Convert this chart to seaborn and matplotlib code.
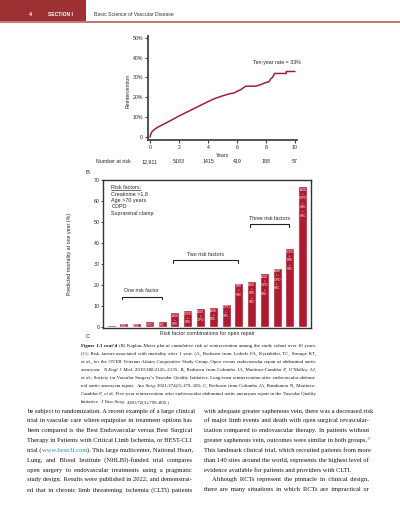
import matplotlib
matplotlib.use("Agg")
import matplotlib.pyplot as plt
import seaborn as sns
import pandas as pd
import numpy as np
from matplotlib.patches import Rectangle
from matplotlib.lines import Line2D

# ---- panel B: cumulative reintervention
km_years = [0, 0.05, 0.15, 0.3, 0.5, 0.75, 1.0, 1.5, 2.0, 2.5, 3.0, 3.5, 4.0, 4.5, 5.0,
            5.5, 5.8, 6.0, 6.3, 6.6, 7.3, 7.7, 7.9, 8.2, 8.35, 8.45, 8.6, 9.4, 9.4, 10.0]
km_pct = [0, 1.5, 2.8, 3.8, 4.8, 5.8, 6.7, 8.6, 10.6, 12.4, 14.2, 16.0, 17.8, 19.5, 20.7,
          21.8, 22.2, 23.0, 24.0, 25.6, 25.6, 26.5, 27.2, 27.8, 29.5, 30.0, 32.0, 32.0, 33.0, 33.0]
km_yticks = [0, 10, 20, 30, 40, 50]
km_yticklabels = ["0", "10%", "20%", "30%", "40%", "50%"]
risk_years = [0, 2, 4, 6, 8, 10]
at_risk = ["12,911", "5183", "1415", "419", "188", "57"]

# ---- panel C: predicted 1-year mortality by risk factor combination
combos = ["NONE", "CRE", "AGE", "COPD", "SRC",
          "AGE+CRE", "COPD+CRE", "AGE+COPD", "AGE+SRC", "COPD+SRC", "CRE+SRC",
          "AGE+CRE+SRC", "AGE+COPD+CRE", "AGE+COPD+SRC", "COPD+CRE+SRC",
          "AGE+COPD+CRE+SRC"]
mortality = [0.8, 2.1, 2.1, 2.7, 2.7, 7.0, 7.9, 8.9, 9.4, 11.0, 21.1, 21.7, 25.6, 28.3, 37.5, 67.0]
risk_factors = ["Creatinine >1.8", "Age >70 years", "COPD", "Suprarenal clamp"]
group_names = ["One risk factor", "Two risk factors", "Three risk factors"]
group_first = [1, 5, 11]
group_last = [4, 10, 14]
group_bracket_y = [14.4, 31.8, 48.9]

caption = [
    "*Figure *1.1 *cont\u2019d (B) Kaplan\u2013Meier plot of cumulative risk of reintervention among the study cohort over 10 years.",
    "(C): Risk factors associated with mortality after 1 year. (A, Redrawn from Lederle FA, Kyriakides TC, Stroupe KT,",
    "et al., for the OVER Veterans Affairs Cooperative Study Group. Open versus endovascular repair of abdominal aortic",
    "aneurysm. _N _Engl _J _Med. 2019;380:2126\u20132135. B, Redrawn from Columbo JA, Martinez-Camblor P, O\u2019Malley AJ,",
    "et al.; Society for Vascular Surgery\u2019s Vascular Quality Initiative. Long-term reintervention after endovascular abdomi-",
    "nal aortic aneurysm repair. _Ann _Surg. 2021;274(2):179\u2013185; C, Redrawn from Columbo JA, Ramkumar N, Martinez-",
    "Camblor P, et al. Five-year reintervention after endovascular abdominal aortic aneurysm repair in the Vascular Quality",
    "Initiative. _J _Vasc _Surg. 2020;72(3):799\u2013805.)",
]
left_col = [
    "be subject to randomization. A recent example of a large clinical",
    "trial in vascular care where equipoise in treatment options has",
    "been compared is the Best Endovascular versus Best Surgical",
    "Therapy in Patients with Critical Limb Ischemia, or BEST-CLI",
    "trial (www.bestcli.com). This large multicenter, National Heart,",
    "Lung, and Blood Institute (NHLBI)-funded trial compares",
    "open surgery to endovascular treatments using a pragmatic",
    "study design. Results were published in 2022, and demonstrat-",
    "ed that in chronic limb threatening ischemia (CLTI) patients",
]
right_col = [
    "with adequate greater saphenous vein, there was a decreased risk",
    "of major limb events and death with open surgical revascular-",
    "ization compared to endovascular therapy. In patients without",
    "greater saphenous vein, outcomes were similar in both groups. ^9",
    "This landmark clinical trial, which recruited patients from more",
    "than 140 sites around the world, represents the highest level of",
    "evidence available for patients and providers with CLTI.",
    "Although RCTs represent the pinnacle in clinical design,",
    "there are many situations in which RCTs are impractical or",
]

RED = "#a81c30"
BAR = "#b3182e"
TEAL = "#2b8a9c"
INK = "#151515"
W, H = 400, 512

sns.set_style("ticks")
plt.rcParams["font.family"] = ["Liberation Sans", "DejaVu Sans"]

fig = plt.figure(figsize=(4, 5.12), dpi=100)


def fx(x):
    return x / W


def fy(y):
    return 1 - y / H


# page header
fig.add_artist(Rectangle((0, fy(21)), fx(86), 21 / H, transform=fig.transFigure,
                         color="#9c3032", lw=0))
fig.add_artist(Line2D([0, 1], [fy(22.3)] * 2, transform=fig.transFigure,
                      color="#c27b6b", lw=1.4))
fig.text(fx(29), fy(14), "4", color="white", fontsize=3.8, weight="bold", va="center")
fig.text(fx(47.5), fy(14), "SECTION I", color="white", fontsize=3.6, weight="bold", va="center")
fig.text(fx(94), fy(14), "Basic Science of Vascular Disease", color="#333333",
         fontsize=3.7, va="center")

# ---- panel B
ax1 = fig.add_axes([fx(148), fy(140), 149 / W, 104 / H])
sns.lineplot(x=km_years, y=km_pct, estimator=None, sort=False, color=RED,
             linewidth=1.1, ax=ax1)
ax1.set_xlim(-0.14, 10.14)
ax1.set_ylim(-1.5, 50.86)
ax1.set_xticks(risk_years)
ax1.set_yticks(km_yticks)
ax1.set_yticklabels(km_yticklabels)
ax1.tick_params(labelsize=3.8, length=2, width=0.8, pad=1.5, color="#444444")
sns.despine(ax=ax1)
for s in ["left", "bottom"]:
    ax1.spines[s].set_color("#444444")
    ax1.spines[s].set_linewidth(1.3)
ax1.text(-0.134, 0.47, "Reintervention", transform=ax1.transAxes, rotation=90,
         ha="center", va="center", fontsize=3.8)
ax1.text(5, -0.145, "Years", transform=ax1.get_xaxis_transform(), ha="center",
         va="center", fontsize=3.8)
ax1.text(8.76, 37.4, "Ten-year rate = 33%", ha="center", va="center", fontsize=3.8)
ax1.text(-3.7, -0.21, "Number at risk", transform=ax1.get_xaxis_transform(),
         ha="left", va="center", fontsize=3.8)
for yr, n in zip(risk_years, at_risk):
    ax1.text(yr, -0.21, n, transform=ax1.get_xaxis_transform(), ha="center",
             va="center", fontsize=3.8)
fig.text(fx(86), fy(172), "B", fontsize=4.2, va="center")

# ---- panel C
ax2 = fig.add_axes([fx(103), fy(328), 208 / W, 148 / H])
df = pd.DataFrame({"combo": combos, "mortality": mortality})
sns.barplot(data=df, x="combo", y="mortality", color=BAR, saturation=1,
            width=0.7, errorbar=None, ax=ax2)
ax2.set_xlim(-0.63, 15.65)
ax2.set_ylim(-0.5, 70)
ax2.set_yticks(range(0, 71, 10))
ax2.set_xticks([])
ax2.set_xlabel("")
ax2.set_ylabel("")
ax2.tick_params(axis="y", labelsize=3.8, length=1.5, width=0.6, pad=1)
for s in ax2.spines.values():
    s.set_color("#333333")
    s.set_linewidth(1.0)

for i, (c, v) in enumerate(zip(combos, mortality)):
    if c == "NONE":
        continue
    ax2.text(i, v - 0.7, c.replace("+", "\n+\n"), color="white", fontsize=2.2,
             ha="center", va="top", linespacing=1.1)

ax2.text(-0.16, 0.5, "Predicted mortality at one year (%)", transform=ax2.transAxes,
         rotation=90, ha="center", va="center", fontsize=3.8)
ax2.text(0.5, -0.035, "Risk factor combinations for open repair", transform=ax2.transAxes,
         ha="center", va="center", fontsize=3.8)

ax2.text(0.04, 0.95, "Risk factors:", transform=ax2.transAxes, fontsize=3.9, va="center")
fig.add_artist(Line2D([fx(111), fx(141)], [fy(189.6)] * 2, transform=fig.transFigure,
                      color="black", lw=0.4))
for k, rf in enumerate(risk_factors):
    ax2.text(0.04, 0.903 - k * 0.042, rf, transform=ax2.transAxes, fontsize=3.9, va="center")

for name, a, b, ya in zip(group_names, group_first, group_last, group_bracket_y):
    xa, xb = a - 0.15, b - 0.05
    ax2.plot([xa, xa, xb, xb], [ya - 1.3, ya, ya, ya - 1.3], color="#222222", lw=0.8)
    ax2.text((xa + xb) / 2, ya + 2.8, name, ha="center", va="center", fontsize=3.8)

fig.text(fx(86), fy(337), "C", fontsize=4.2, va="center")

# ---- caption and body text, justified with hair spaces
renderer = fig.canvas.get_renderer()
HAIR = "\u200a"


def measure(s, kw):
    t = fig.text(0, 0, s, **kw)
    w = t.get_window_extent(renderer).width
    t.remove()
    return w


def tokens(line, size):
    # each item: dict(text, kw, attach, sup, w)
    out = []
    for tok in line.split():
        kw = dict(fontsize=size, family=["Liberation Serif", "DejaVu Serif"], color=INK)
        if tok.startswith("*"):
            tok = tok[1:]
            kw["weight"] = "bold"
        if tok.startswith("_"):
            tok = tok[1:]
            kw["style"] = "italic"
        if "bestcli" in tok:
            out.append(dict(text="(", kw=kw, attach=False, sup=False))
            out.append(dict(text="www.bestcli.com", kw={**kw, "color": TEAL},
                            attach=True, sup=False))
            out.append(dict(text=").", kw=kw, attach=True, sup=False))
            continue
        sup = tok.startswith("^")
        if sup:
            tok = tok[1:]
            kw = {**kw, "fontsize": size * 0.7, "color": TEAL}
        out.append(dict(text=tok, kw=kw, attach=sup, sup=sup))
    for it in out:
        it["w"] = measure(it["text"], it["kw"])
    return out


def spaces(size):
    kw = dict(fontsize=size, family=["Liberation Serif", "DejaVu Serif"])
    sw = measure("a a", kw) - measure("aa", kw)
    hw = (measure("a" + HAIR * 10 + "a", kw) - measure("aa", kw)) / 10
    return sw, max(hw, 0.05)


def natural(line, size):
    items = tokens(line, size)
    sw, _ = spaces(size)
    return sum(it["w"] for it in items) + sw * sum(1 for it in items[1:] if not it["attach"])


def fit_size(lines, width, s0=4.0):
    ratios = [width / natural(ln, s0) for ln in lines]
    return s0 * min(np.median(ratios) * 0.985, min(ratios) * 1.02)


def put_line(line, x0, x1, y, size, justify=True, indent=0):
    items = tokens(line, size)
    sw, hw = spaces(size)
    n_gaps = sum(1 for it in items[1:] if not it["attach"])
    total = sum(it["w"] for it in items)
    gap = sw
    if justify and n_gaps:
        gap = max(sw, (x1 - x0 - indent - total) / n_gaps)
    x = x0 + indent
    groups = []
    carry = 0.0
    for k, it in enumerate(items):
        fill = ""
        if k > 0 and not it["attach"]:
            want = (gap - sw) / hw + carry
            n = int(round(want))
            carry = want - n
            fill = " " + HAIR * max(n, 0)
            x += gap
        key = (tuple(sorted((a, str(b)) for a, b in it["kw"].items())), it["sup"])
        if groups and groups[-1]["key"] == key:
            groups[-1]["text"] += fill + it["text"]
        else:
            groups.append(dict(key=key, text=it["text"], x=x, kw=it["kw"], sup=it["sup"]))
        x += it["w"]
    for g in groups:
        fig.text(fx(g["x"] + (0.3 if g["sup"] else 0)), fy(y - (1.8 if g["sup"] else 0)),
                 g["text"], va="baseline", ha="left", **g["kw"])


cap_size = fit_size(caption[:-1], 316 - 81)
for k, line in enumerate(caption):
    put_line(line, 81, 316, 347.5 + k * 7.9, cap_size, justify=k < len(caption) - 1)

body_size = fit_size(left_col + right_col[:6] + right_col[8:], 165)
for k, line in enumerate(left_col):
    put_line(line, 27, 192, 412.5 + k * 9.85, body_size, justify=True)
for k, line in enumerate(right_col):
    put_line(line, 204, 369, 412.5 + k * 9.85, body_size, justify=k != 6,
             indent=8 if k == 7 else 0)

fig.savefig("out.png", dpi=100)
